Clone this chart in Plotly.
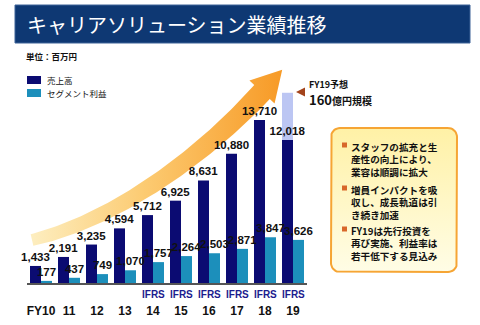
import numpy as np
import plotly.graph_objects as go

# Fiscal years and results (unit: million yen)
fiscal_years = ["FY10", "11", "12", "13", "14", "15", "16", "17", "18", "19"]
sales = [1433, 2191, 3235, 4594, 5712, 6925, 8631, 10880, 13710, 12018]
segment_profit = [177, 437, 749, 1070, 1757, 2264, 2503, 2871, 3847, 3626]
ifrs_basis = [False, False, False, False, True, True, True, True, True, True]
fy19_forecast_sales = 16000  # 160億円規模

series_names = ["売上高", "セグメント利益"]
notes = [
    ["スタッフの拡充と生", "産性の向上により、", "業容は順調に拡大"],
    ["増員インパクトを吸", "収し、成長軌道は引", "き続き加速"],
    ["FY19は先行投資を", "再び実施、利益率は", "若干低下する見込み"],
]

NAVY = "#0b0b72"
TEAL = "#1c8fbb"
JP = "Noto Sans CJK JP"
NUM = "Liberation Sans Narrow, Liberation Sans, Arial"

W, H = 480, 325
base_px, top_px = 283, 88          # plot area baseline / top in pixels
px_per_unit = 163 / 13710
y_top = (base_px - top_px) / px_per_unit

fig = go.Figure()


# ---- decorative layer (pixel coordinate system on x/y) ----
def cubic(p0, p1, p2, p3, n=80):
    t = np.linspace(0, 1, n)[:, None]
    pts = (1 - t) ** 3 * p0 + 3 * (1 - t) ** 2 * t * p1 + 3 * (1 - t) * t ** 2 * p2 + t ** 3 * p3
    d = 3 * (1 - t) ** 2 * (p1 - p0) + 6 * (1 - t) * t * (p2 - p1) + 3 * t ** 2 * (p3 - p2)
    return pts, d


P0, P1, P2, P3 = (np.array(p, float) for p in [(32, 240), (110, 222), (200, 160), (262, 92)])
pts, d = cubic(P0, P1, P2, P3)
tang = d / np.linalg.norm(d, axis=1)[:, None]
nrm = np.column_stack([-tang[:, 1], tang[:, 0]])
half = np.linspace(6, 10.5, len(pts))[:, None]
side_a = pts + half * nrm
side_b = pts - half * nrm
end_t, end_n = tang[-1], nrm[-1]
tip = P3 + 30 * end_t
head_a = P3 + 17 * end_n
head_b = P3 - 17 * end_n
arrow = np.vstack([side_a, head_a, tip, head_b, side_b[::-1], side_a[:1]])

fig.add_trace(go.Scatter(
    x=arrow[:, 0], y=arrow[:, 1], mode="lines", fill="toself",
    line=dict(width=0, color="rgba(0,0,0,0)"),
    fillgradient=dict(type="horizontal",
                      colorscale=[[0, "#fdeec0"], [0.45, "#fccb72"], [1, "#f79a26"]]),
    hoverinfo="skip", showlegend=False, xaxis="x", yaxis="y"))


def rounded_rect(x0, y0, x1, y1, r, n=10):
    xs, ys = [], []
    for cx, cy, a0 in [(x1 - r, y0 + r, -90), (x1 - r, y1 - r, 0), (x0 + r, y1 - r, 90), (x0 + r, y0 + r, 180)]:
        a = np.radians(np.linspace(a0, a0 + 90, n))
        xs += list(cx + r * np.cos(a))
        ys += list(cy + r * np.sin(a))
    return xs + xs[:1], ys + ys[:1]


bx, by = rounded_rect(331, 128, 457, 272, 9)
fig.add_trace(go.Scatter(
    x=bx, y=by, mode="lines", fill="toself",
    line=dict(width=2, color="#f6a534"),
    fillgradient=dict(type="vertical",
                      colorscale=[[0, "#fffde6"], [1, "#fff1a6"]]),
    hoverinfo="skip", showlegend=False, xaxis="x", yaxis="y"))

# ---- bars (x2/y2) ----
fig.add_trace(go.Bar(
    x=[fiscal_years[-1]], y=[fy19_forecast_sales - sales[-1]], base=[sales[-1]],
    offsetgroup="sales", marker=dict(color="#bcc6f3", line=dict(width=0)),
    hoverinfo="skip", showlegend=False, xaxis="x2", yaxis="y2"))
fig.add_trace(go.Bar(
    x=fiscal_years, y=sales, name=series_names[0], offsetgroup="sales",
    marker=dict(color=NAVY, line=dict(width=0)),
    text=sales, texttemplate="%{y:,}", textposition="outside", constraintext="none",
    textfont=dict(family=NUM, size=11.5, color="#111", weight="bold"),
    cliponaxis=False, showlegend=False, xaxis="x2", yaxis="y2"))
fig.add_trace(go.Bar(
    x=fiscal_years, y=segment_profit, name=series_names[1], offsetgroup="profit",
    marker=dict(color=TEAL, line=dict(width=0)),
    text=segment_profit, texttemplate="%{y:,}", textposition="outside", constraintext="none",
    textfont=dict(family=NUM, size=11.5, color="#111", weight="bold"),
    cliponaxis=False, showlegend=False, xaxis="x2", yaxis="y2"))

shapes = [
    dict(type="rect", xref="x", yref="y", x0=15, x1=470, y0=5, y1=43,
         fillcolor="#0e3873", line=dict(color="#3d6298", width=1), layer="above"),
    dict(type="rect", xref="x", yref="y", x0=27, x1=41, y0=76, y1=84,
         fillcolor=NAVY, line=dict(width=0)),
    dict(type="rect", xref="x", yref="y", x0=27, x1=41, y0=89, y1=97,
         fillcolor=TEAL, line=dict(width=0)),
    dict(type="path", xref="x", yref="y", path="M 296 92 L 305 87.5 L 305 96.5 Z",
         fillcolor="#a3441c", line=dict(width=0)),
]

annotations = [
    dict(text="キャリアソリューション業績推移", x=25, y=24, xref="x", yref="y",
         xanchor="left", yanchor="middle", showarrow=False,
         font=dict(family=JP, size=20, color="white")),
    dict(text="<b>単位：百万円</b>", x=24, y=56, xref="x", yref="y",
         xanchor="left", yanchor="middle", showarrow=False,
         font=dict(family=JP, size=8.5, color="#111")),
    dict(text=series_names[0], x=45, y=80, xref="x", yref="y",
         xanchor="left", yanchor="middle", showarrow=False,
         font=dict(family=JP, size=8.5, color="#111")),
    dict(text=series_names[1], x=45, y=93, xref="x", yref="y",
         xanchor="left", yanchor="middle", showarrow=False,
         font=dict(family=JP, size=8.5, color="#111")),
    dict(text="<b>FY19予想</b>", x=307, y=84, xref="x", yref="y",
         xanchor="left", yanchor="middle", showarrow=False,
         font=dict(family=JP, size=9, color="#111")),
    dict(text="<b><span style='font-size:13px'>160</span>億円規模</b>", x=307, y=99,
         xref="x", yref="y", xanchor="left", yanchor="middle", showarrow=False,
         font=dict(family=JP, size=10, color="#111")),
]

# "IFRS" marker under each year reported on an IFRS basis
# (category axis positions are given by index so numeric-looking names stay unambiguous)
for idx, flag in enumerate(ifrs_basis):
    if flag:
        annotations.append(dict(
            text="<b>IFRS</b>", x=idx, y=(H - 294) / H, xref="x2", yref="paper",
            xanchor="center", yanchor="middle", showarrow=False,
            font=dict(family="Liberation Sans, Arial", size=10, color="#1b1b8e")))

# notes box: one bullet and one wrapped text block per point
group_top = [145, 188, 229]
for top, lines in zip(group_top, notes):
    shapes.append(dict(type="rect", xref="x", yref="y", x0=342, x1=347,
                       y0=top - 2.5, y1=top + 2.5, fillcolor="#d8672a",
                       line=dict(width=0), layer="above"))
    annotations.append(dict(
        text="<b>" + "<br>".join(lines) + "</b>", x=349, y=top - 7, xref="x", yref="y",
        xanchor="left", yanchor="top", align="left", showarrow=False,
        font=dict(family=JP, size=9.6, color="#111")))

fig.update_layout(
    width=W, height=H, margin=dict(l=0, r=0, t=0, b=0),
    paper_bgcolor="white", plot_bgcolor="rgba(0,0,0,0)",
    barmode="group", bargap=0.215, bargroupgap=0,
    xaxis=dict(domain=[0, 1], range=[0, W], visible=False, fixedrange=True),
    yaxis=dict(domain=[0, 1], range=[H, 0], visible=False, fixedrange=True),
    xaxis2=dict(domain=[27 / W, 307 / W], range=[-0.5, 9.5], anchor="y2",
                type="category", categoryorder="array", categoryarray=fiscal_years,
                showline=True, linecolor="#555", linewidth=2,
                showgrid=False, ticks="", ticklabelstandoff=16,
                tickfont=dict(family="Liberation Sans, Arial", size=12, color="#111", weight="bold")),
    yaxis2=dict(domain=[(H - base_px) / H, (H - top_px) / H], range=[0, y_top],
                anchor="x2", visible=False, showgrid=False, zeroline=False),
    shapes=shapes, annotations=annotations,
)

fig.write_html("out.html")
